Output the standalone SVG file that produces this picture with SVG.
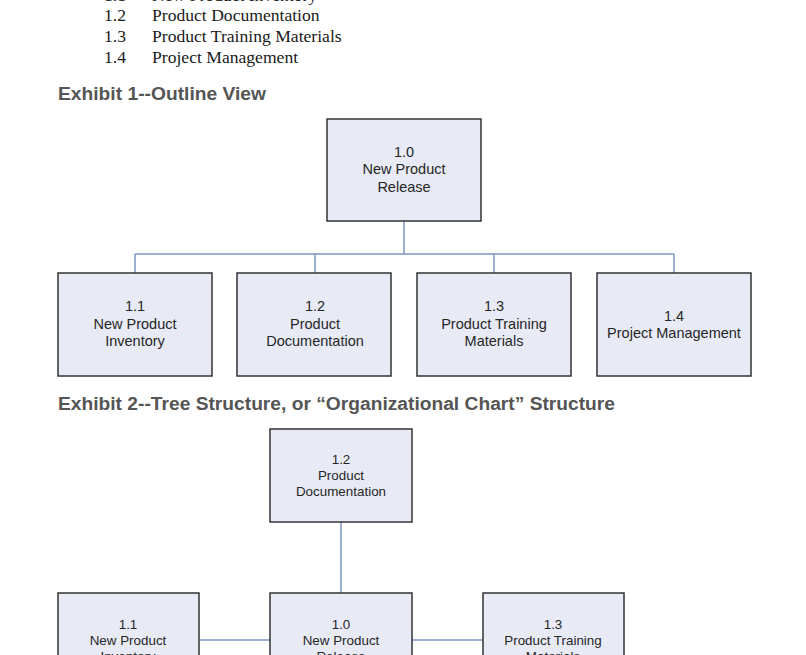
<svg xmlns="http://www.w3.org/2000/svg" width="806" height="655" viewBox="0 0 806 655">
<style>
.bg{fill:#ffffff}
.list{font-family:"Liberation Serif","Times New Roman",serif;font-size:17.6px;fill:#1a1a1a}
.head{font-family:"Liberation Sans",Arial,sans-serif;font-size:18px;font-weight:bold;fill:#555555}
.box{fill:#e8ebf6;stroke:#333333;stroke-width:1.5}
.lbl{font-family:"Liberation Sans",Arial,sans-serif;font-size:14.5px;fill:#262626;text-anchor:middle}
.lbl2{font-family:"Liberation Sans",Arial,sans-serif;font-size:13.4px;fill:#262626;text-anchor:middle}
.conn{fill:none;stroke:#7f95c6;stroke-width:1.5}
</style>
<rect class="bg" x="0" y="0" width="806" height="655"/>
<g id="outline-list">
<text class="list" x="104" y="1">1.1</text><text class="list" x="152" y="1">New Product Inventory</text>
<text class="list" x="104" y="21">1.2</text><text class="list" x="152" y="21">Product Documentation</text>
<text class="list" x="104" y="42">1.3</text><text class="list" x="152" y="42">Product Training Materials</text>
<text class="list" x="104" y="63">1.4</text><text class="list" x="152" y="63">Project Management</text>
</g>
<text class="head" x="58" y="100" textLength="208" lengthAdjust="spacingAndGlyphs">Exhibit 1--Outline View</text>
<text class="head" x="58" y="410" textLength="557" lengthAdjust="spacingAndGlyphs">Exhibit 2--Tree Structure, or “Organizational Chart” Structure</text>
<g id="connectors">
<path class="conn" d="M404 221V254M135 254H674M135 254V273M315 254V273M494 254V273M674 254V273"/>
<path class="conn" d="M341 522V593M199 640H270M412 640H483"/>
</g>
<g id="n1-0">
<rect class="box" x="327" y="119" width="154" height="102"/>
<text class="lbl" x="404" y="157">1.0</text>
<text class="lbl" x="404" y="174">New Product</text>
<text class="lbl" x="404" y="192">Release</text>
</g>
<g id="n1-1">
<rect class="box" x="58" y="273" width="154" height="103"/>
<text class="lbl" x="135" y="311">1.1</text>
<text class="lbl" x="135" y="329">New Product</text>
<text class="lbl" x="135" y="346">Inventory</text>
</g>
<g id="n1-2">
<rect class="box" x="237" y="273" width="154" height="103"/>
<text class="lbl" x="315" y="311">1.2</text>
<text class="lbl" x="315" y="329">Product</text>
<text class="lbl" x="315" y="346">Documentation</text>
</g>
<g id="n1-3">
<rect class="box" x="417" y="273" width="154" height="103"/>
<text class="lbl" x="494" y="311">1.3</text>
<text class="lbl" x="494" y="329">Product Training</text>
<text class="lbl" x="494" y="346">Materials</text>
</g>
<g id="n1-4">
<rect class="box" x="597" y="273" width="154" height="103"/>
<text class="lbl" x="674" y="321">1.4</text>
<text class="lbl" x="674" y="338">Project Management</text>
</g>
<g id="t1-2">
<rect class="box" x="270" y="429" width="142" height="93"/>
<text class="lbl2" x="341" y="464">1.2</text>
<text class="lbl2" x="341" y="480">Product</text>
<text class="lbl2" x="341" y="496">Documentation</text>
</g>
<g id="t1-1">
<rect class="box" x="58" y="593" width="141" height="90"/>
<text class="lbl2" x="128" y="629">1.1</text>
<text class="lbl2" x="128" y="645">New Product</text>
<text class="lbl2" x="128" y="661">Inventory</text>
</g>
<g id="t1-0">
<rect class="box" x="270" y="593" width="142" height="90"/>
<text class="lbl2" x="341" y="629">1.0</text>
<text class="lbl2" x="341" y="645">New Product</text>
<text class="lbl2" x="341" y="661">Release</text>
</g>
<g id="t1-3">
<rect class="box" x="483" y="593" width="141" height="90"/>
<text class="lbl2" x="553" y="629">1.3</text>
<text class="lbl2" x="553" y="645">Product Training</text>
<text class="lbl2" x="553" y="661">Materials</text>
</g>
</svg>
